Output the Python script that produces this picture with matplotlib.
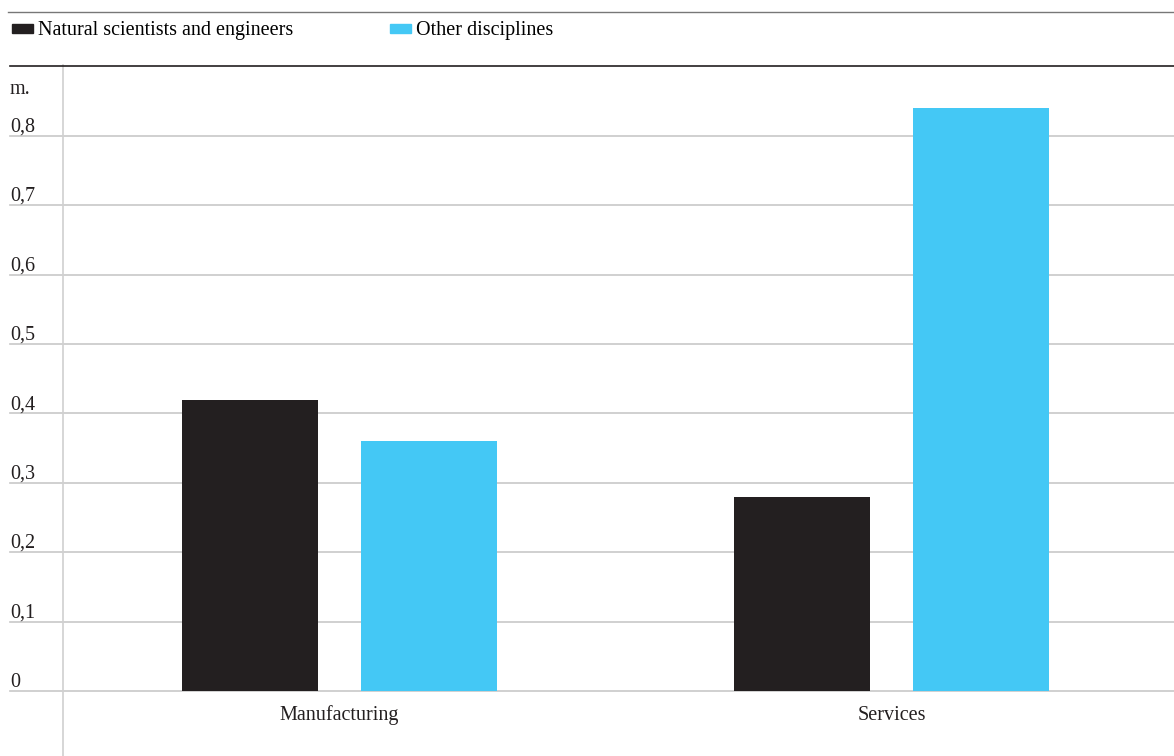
import matplotlib
matplotlib.use("Agg")
import matplotlib.pyplot as plt
from matplotlib.patches import Patch
from matplotlib.lines import Line2D
import matplotlib.transforms as mtransforms
import numpy as np

categories = ["Manufacturing", "Services"]
series_names = ["Natural scientists and engineers", "Other disciplines"]
natural = [0.42, 0.28]
other = [0.36, 0.84]
yticks = [0, 0.1, 0.2, 0.3, 0.4, 0.5, 0.6, 0.7, 0.8]
ytick_labels = ["0", "0,1", "0,2", "0,3", "0,4", "0,5", "0,6", "0,7", "0,8"]
unit_label = "m."

colors = ["#231f20", "#44c8f5"]
W, H = 1174, 756
plt.rcParams['font.family'] = ['Liberation Serif', 'DejaVu Serif']
fs = 14.5

fig = plt.figure(figsize=(W / 100, H / 100), dpi=100)
# axes: x from 10 to 1174 px, y from 65 to 691 px (top-origin)
ax = fig.add_axes([10 / W, 1 - 691 / H, (W - 10) / W, (691 - 65) / H])

x = np.arange(len(categories))
bw = 0.2464
off = 0.162
ax.bar(x - off, natural, bw, color=colors[0], zorder=3)
ax.bar(x + off, other, bw, color=colors[1], zorder=3)

ax.set_xlim(-0.597, 1.512)
ax.set_ylim(0, 0.902)
for s in ax.spines.values():
    s.set_visible(False)
ax.set_xticks([])
ax.set_yticks([])

for v, lab in zip(yticks, ytick_labels):
    ax.axhline(v, color="#c8c8c8", lw=1.2, zorder=1, clip_on=False)
    ax.annotate(lab, xy=(0, v), xycoords=("axes fraction", "data"),
                xytext=(0, -0.5), textcoords="offset points",
                ha="left", va="bottom", fontsize=fs, color="#231f20")

ax.text(0, 0.866, unit_label, transform=mtransforms.blended_transform_factory(ax.transAxes, ax.transData),
        ha="left", va="center", fontsize=fs, color="#231f20")

for xi, c in zip(x, categories):
    ax.annotate(c, xy=(xi, 0), xycoords="data", xytext=(0, -10.5), textcoords="offset points",
                ha="center", va="top", fontsize=fs, color="#231f20")

# vertical axis line
fig.add_artist(Line2D([62.5 / W, 62.5 / W], [0, 1 - 65 / H], transform=fig.transFigure,
                      color="#d0d0d0", lw=1.2))
# top rules
fig.add_artist(Line2D([8 / W, 1], [1 - 12 / H, 1 - 12 / H], transform=fig.transFigure,
                      color="#777777", lw=1.0))
fig.add_artist(Line2D([10 / W, 1], [1 - 65.5 / H, 1 - 65.5 / H], transform=fig.transFigure,
                      color="#231f20", lw=1.2))

handles = [Patch(color=colors[0]), Patch(color=colors[1])]
leg = fig.legend(handles, series_names, loc="center left", bbox_to_anchor=(12 / W, 1 - 31 / H),
                 ncol=2, frameon=False, fontsize=fs, handlelength=1.05, handleheight=0.35,
                 handletextpad=0.25, columnspacing=4.8, borderaxespad=0, borderpad=0)

fig.savefig("out.png", dpi=100)
